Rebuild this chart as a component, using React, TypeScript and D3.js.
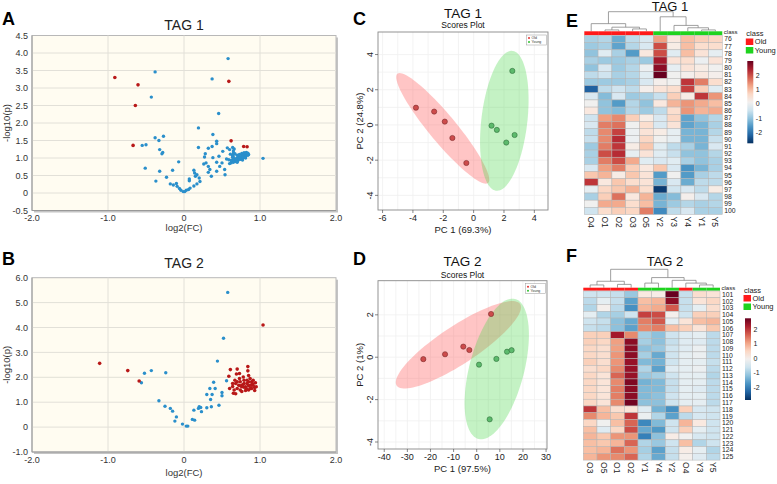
import React from 'react';
import * as d3 from 'd3';

const FONT = "'Liberation Sans', Arial, Helvetica, sans-serif";
type P = [number, number];

// ---------------- Volcano data ----------------
const tag1Significant: P[] = [
  [-0.91, 3.3], [-0.605, 3.09], [-0.64, 2.5], [-0.67, 1.36], [0.59, 3.19], [0.62, 1.49], [0.785, 1.33], [0.83, 1.32],
];
const tag1Other: P[] = [
  [0.58, 3.84], [-0.38, 3.46], [0.37, 3.26], [-0.43, 2.74], [0.456, 2.27], [0.19, 1.86], [0.38, 1.67], [-0.38, 1.58],
  [-0.33, 1.5], [-0.27, 1.62], [-0.55, 1.36], [-0.5, 1.38], [-0.32, 1.24], [-0.28, 1.16], [-0.29, 1.12], [-0.51, 0.71],
  [-0.32, 0.62], [-0.07, 0.89], [-0.15, 0.65], [-0.23, 0.45], [-0.37, 0.34], [-0.18, 0.26], [-0.14, 0.23], [-0.1, 0.27],
  [-0.09, 0.19], [-0.06, 0.13], [-0.04, 0.08], [-0.01, 0.04], [0.01, 0.04], [0.03, 0.08], [0.06, 0.1], [0.08, 0.14],
  [0.07, 0.35], [0.07, 0.4], [0.13, 0.65], [0.14, 0.57], [0.17, 0.52], [0.15, 0.48], [0.2, 0.43], [0.21, 0.33],
  [0.17, 0.26], [0.13, 0.2], [0.19, 1.3], [0.28, 1.12], [0.32, 1.28], [0.27, 1.03], [0.29, 0.86], [0.26, 0.83],
  [0.32, 0.76], [0.34, 0.67], [0.32, 0.59], [0.36, 0.48], [0.38, 1.01], [0.37, 1.33], [0.43, 1.48], [0.43, 1.41],
  [0.46, 1.05], [0.43, 0.88], [0.47, 0.76], [0.43, 0.62], [0.5, 0.86], [0.51, 1.19], [0.535, 0.67], [0.54, 0.52],
  [0.57, 1.29], [0.6, 1.24], [0.61, 1.11], [0.59, 0.95], [0.56, 0.97], [0.645, 1.05], [1.04, 0.99],
  [0.6, 0.84], [0.62, 0.86], [0.63, 0.9], [0.65, 0.88], [0.66, 0.92], [0.68, 0.9], [0.69, 0.95], [0.71, 0.93],
  [0.72, 0.98], [0.74, 0.96], [0.75, 1.0], [0.77, 0.99], [0.78, 1.03], [0.8, 1.02], [0.81, 1.06], [0.82, 1.09],
  [0.83, 1.12], [0.84, 1.08], [0.8, 1.1], [0.78, 1.08], [0.76, 1.05], [0.74, 1.03], [0.72, 1.05], [0.7, 1.0],
  [0.68, 0.97], [0.66, 0.98], [0.64, 0.95], [0.64, 1.02], [0.64, 1.08], [0.65, 1.14], [0.65, 1.2], [0.66, 1.26],
  [0.64, 1.3], [0.67, 1.12], [0.7, 1.08], [0.73, 1.1], [0.76, 1.13], [0.79, 1.15], [0.82, 1.16], [0.84, 1.14],
  [0.62, 0.93], [0.7, 0.88], [0.77, 0.94], [0.81, 1.0], [0.85, 1.1],
];
const tag2Significant: P[] = [
  [-1.11, 2.56], [-0.74, 2.27], [-0.59, 1.85], [1.04, 4.1],
  [0.61, 2.31], [0.7, 2.33], [0.59, 2.04], [0.69, 2.13], [0.73, 2.15], [0.84, 2.43], [0.84, 2.26], [0.85, 2.07],
  [0.64, 1.63], [0.66, 1.49], [0.65, 1.36], [0.68, 1.34], [0.6, 1.55], [0.7, 1.55], [0.74, 1.49], [0.76, 1.62],
  [0.72, 1.68], [0.79, 1.75], [0.81, 1.62], [0.83, 1.75], [0.85, 1.82], [0.87, 1.68], [0.89, 1.82], [0.91, 1.68],
  [0.93, 1.59], [0.94, 1.78], [0.89, 1.55], [0.85, 1.49], [0.81, 1.47], [0.76, 1.43], [0.93, 1.47], [0.87, 1.95],
  [0.83, 1.88], [0.79, 1.88], [0.74, 1.82], [0.73, 1.95], [0.85, 1.66], [0.79, 1.6], [0.74, 1.66], [0.68, 1.75],
  [0.7, 1.82], [0.89, 1.68], [0.91, 1.88], [0.67, 1.88], [0.64, 1.75], [0.78, 2.01], [0.87, 1.55], [0.95, 1.62],
  [0.82, 1.55], [0.9, 1.75], [0.77, 1.7],
];
const tag2Other: P[] = [
  [0.575, 5.41], [0.52, 3.57], [0.44, 2.65], [-0.56, 1.78], [-0.52, 2.16], [-0.43, 2.27], [-0.24, 2.18],
  [-0.33, 1.06], [-0.25, 0.84], [-0.18, 0.75], [-0.15, 0.64], [-0.1, 0.41], [-0.12, 0.24], [-0.02, 0.12],
  [0.03, 0.04], [0.05, 0.04], [0.11, 0.31], [0.14, 0.28], [0.13, 0.68], [0.19, 0.75], [0.2, 0.82], [0.22, 0.79],
  [0.23, 0.62], [0.3, 0.78], [0.36, 0.82], [0.3, 1.31], [0.35, 1.11], [0.34, 1.55], [0.39, 1.8], [0.41, 1.55],
  [0.37, 1.31], [0.46, 0.88], [0.5, 1.39], [0.5, 1.26], [0.56, 1.86],
];

const volcanoXTicks = [-2, -1, 0, 1, 2];
const volcanoXLabels = ['-2.0', '-1.0', '0', '1.0', '2.0'];
const tag1VolcanoYTicks = [-0.5, 0, 0.5, 1, 1.5, 2, 2.5, 3, 3.5, 4, 4.5];
const tag1VolcanoYLabels = ['-0.5', '0', '0.5', '1.0', '1.5', '2.0', '2.5', '3.0', '3.5', '4.0', '4.5'];
const tag2VolcanoYTicks = [-1, 0, 1, 2, 3, 4, 5, 6];
const tag2VolcanoYLabels = ['-1.0', '0', '1.0', '2.0', '3.0', '4.0', '5.0', '6.0'];

// ---------------- PCA scores ----------------
const tag1OldScores: P[] = [[-3.8, 0.98], [-2.6, 0.76], [-1.9, 0.19], [-1.4, -0.74], [-0.48, -2.16]];
const tag1YoungScores: P[] = [[2.55, 3.07], [1.18, -0.04], [1.53, -0.28], [2.7, -0.57], [2.15, -1.0]];
const tag2OldScores: P[] = [[-23.1, -0.09], [-13.7, 0.14], [-5.8, 0.5], [-3.2, 0.34], [6.2, 2.04]];
const tag2YoungScores: P[] = [[1.0, -0.35], [8.5, -0.08], [13.1, 0.26], [15.1, 0.33], [5.6, -2.93]];
const tag1PcaXTicks = [-6, -4, -2, 0, 2, 4];
const tag1PcaYTicks = [-4, -2, 0, 2, 4];
const tag2PcaXTicks = [-40, -30, -20, -10, 0, 10, 20, 30];
const tag2PcaYTicks = [-4, -2, 0, 2];

// ---------------- Heatmaps ----------------
const tag1Columns = ['O4', 'O1', 'O2', 'O3', 'O5', 'Y2', 'Y3', 'Y4', 'Y1', 'Y5'];
const tag1Rows = ['76', '77', '78', '79', '80', '81', '82', '83', '84', '85', '86', '87', '88', '89', '90', '91', '92', '93', '94', '95', '96', '97', '98', '99', '100'];
const tag1Heat: number[][] = [
  [-0.8, -0.7, -1.3, -0.6, -0.3, 1.3, 0.4, 1.0, 0.8, 0.7],
  [-0.9, -0.8, -1.4, -0.7, -0.3, 2.0, 0.3, 1.0, 0.6, 0.6],
  [-1.0, -0.2, -0.8, -1.5, 0.4, 2.0, -0.2, 1.0, 0.5, -0.1],
  [-0.8, -0.9, -0.9, -0.8, -0.9, 2.5, 0.5, 0.6, 0.0, 0.5],
  [-1.0, -0.3, -0.9, -0.7, 0.0, 2.7, -0.1, 0.5, 0.3, 0.1],
  [-0.6, -0.4, -0.8, -0.7, -0.2, 3.0, 0.1, 0.2, 0.4, 0.2],
  [-0.9, -0.9, -0.9, -0.8, -0.3, 0.2, 0.1, 2.2, 1.6, 0.6],
  [-2.2, -0.6, -0.4, -0.6, 0.2, 0.5, 0.6, 2.1, 0.8, -0.2],
  [-0.3, -1.1, -0.3, -0.9, -0.8, -0.5, 0.8, 0.3, 2.2, 1.4],
  [0.1, -1.0, -1.5, -0.7, -1.0, 0.4, 1.1, 1.4, 1.2, 1.0],
  [0.4, -1.0, -1.1, -0.7, -0.9, -0.6, 0.6, 1.4, 1.1, 1.2],
  [-0.4, 1.3, 1.5, 0.8, 0.3, -0.3, 0.7, -1.4, -1.0, -0.7],
  [-0.3, 1.6, 1.7, 0.1, 0.6, -0.3, 0.5, -1.4, -1.2, -0.8],
  [-0.6, 1.5, 2.1, 0.0, 0.5, 0.3, -0.1, -1.2, -1.2, -0.7],
  [-0.5, 1.5, 2.3, 0.0, 0.7, 0.1, -0.1, -1.2, -1.2, -0.5],
  [-0.9, 1.6, 2.2, 0.3, 0.9, -0.2, -0.6, -0.8, -1.2, -0.3],
  [-0.8, 2.0, 2.3, -0.1, 0.5, -0.2, -0.5, -1.0, -1.0, -0.7],
  [-0.8, 1.6, 2.0, 1.2, -0.2, -0.3, -0.2, -0.8, -1.0, -0.8],
  [-0.3, 1.3, 1.6, 0.8, 0.4, 0.9, -0.3, -1.6, -1.2, -0.8],
  [0.9, 1.1, 0.3, 0.9, 0.5, -1.5, 0.1, -1.5, -0.8, -0.6],
  [2.2, 0.4, 0.9, 0.6, 0.5, -1.2, -0.3, -1.3, -0.6, -0.6],
  [-0.1, 0.7, 0.9, 1.1, 0.6, -2.6, -0.4, -0.3, -0.6, 0.3],
  [-0.8, 0.8, 1.7, 0.4, 1.1, -1.3, -1.1, 0.2, -0.3, -0.7],
  [0.1, 1.2, 1.2, 0.6, 1.0, -1.2, -0.9, -0.7, -0.8, -0.7],
  [-0.4, 0.6, 0.8, 0.7, 1.6, -1.7, -0.6, -0.3, -0.8, -0.8],
];
const tag2Columns = ['O3', 'O5', 'O1', 'O2', 'Y1', 'Y4', 'Y2', 'O4', 'Y3', 'Y5'];
const tag2Rows = ['101', '102', '103', '104', '105', '106', '107', '108', '109', '110', '111', '112', '113', '114', '115', '116', '117', '118', '119', '120', '121', '122', '123', '124', '125'];
const tag2Heat: number[][] = [
  [-0.6, -0.6, -0.7, -1.1, 0.2, 0.1, 3.0, -0.7, 0.4, 0.3],
  [-0.8, -0.3, -0.7, -1.6, 0.8, 0.9, 2.5, -0.7, 0.3, 0.5],
  [-0.9, 0.0, -0.8, -1.8, 0.9, 1.0, 1.7, -0.7, -0.3, 0.4],
  [-0.3, -0.9, -1.0, -0.6, 1.9, 1.8, 0.0, -0.6, 0.6, 0.6],
  [-0.6, -0.7, -1.2, -1.5, 1.4, 1.7, -0.3, 0.3, 0.8, 0.9],
  [-0.7, -0.8, -1.2, -1.6, 1.3, 1.4, 0.8, 0.6, 0.3, 0.7],
  [0.6, 0.6, 2.3, 1.3, -1.0, -1.2, -0.6, -0.4, -0.3, -0.8],
  [0.6, 0.5, 1.1, 2.5, -1.0, -1.2, -0.7, -0.4, -0.4, -0.8],
  [0.5, 0.4, 1.1, 2.5, -1.2, -1.1, -0.6, -0.4, -0.2, -0.8],
  [0.5, 0.4, 1.2, 2.5, -1.0, -1.5, -0.6, -0.3, -0.2, -0.8],
  [0.6, 0.4, 1.2, 2.4, -1.3, -1.4, -0.6, -0.3, -0.3, -0.7],
  [0.4, 0.5, 1.3, 2.4, -0.9, -1.6, -0.4, -0.3, -0.2, -0.8],
  [0.5, 0.3, 1.6, 2.4, -1.1, -1.0, -0.6, -0.3, -0.3, -0.9],
  [0.5, 0.3, 1.3, 2.6, -1.4, -1.3, -0.7, -0.3, -0.3, -0.8],
  [0.5, 0.3, 1.4, 2.5, -1.3, -1.3, -0.7, -0.3, -0.4, -0.8],
  [0.5, 0.3, 1.4, 2.5, -1.3, -1.2, -0.6, -0.3, -0.3, -0.8],
  [0.5, 0.3, 1.3, 2.7, -1.2, -1.2, -0.6, -0.3, -0.3, -0.8],
  [2.0, 0.8, 0.4, 0.3, -0.4, -1.4, -1.8, 0.6, -0.5, -0.6],
  [1.3, 0.9, 0.7, 2.0, -0.2, -0.9, -1.6, -0.8, -0.5, -0.6],
  [0.5, -0.1, 0.8, 1.6, -1.9, -1.3, -0.6, 0.9, 0.2, -0.6],
  [0.8, -0.4, 0.5, 1.8, -1.5, -1.7, -0.6, 0.6, -0.3, -0.6],
  [0.9, 0.7, 1.2, 1.2, -2.0, -1.2, 0.1, -0.1, -0.5, -0.6],
  [0.8, 0.7, 0.9, 1.6, -0.9, -1.1, -0.6, 0.8, -0.9, -0.6],
  [0.8, 0.9, 1.5, 1.2, -1.0, -1.6, -0.7, 0.1, -0.3, -0.9],
  [0.9, 1.2, 1.3, 1.6, -0.9, -1.5, -0.7, 0.0, -0.4, -0.8],
];
type Tree = string | [Tree, Tree, number];
const tag1Tree: Tree = [['O4', [['O1', 'O2', 0.07], ['O3', 'O5', 0.12], 0.21], 0.39], ['Y2', ['Y3', ['Y4', ['Y1', 'Y5', 0.07], 0.18], 0.3], 0.74], 1];
const tag2Tree: Tree = [[['O3', 'O5', 0.15], ['O1', 'O2', 0.18], 0.35], [['Y1', 'Y4', 0.25], ['Y2', ['O4', ['Y3', 'Y5', 0.15], 0.25], 0.4], 0.55], 1];
const colorKeyTicks = [2, 1, 0, -1, -2];
const classNames = ['Old', 'Young'];
const classColors = ['#ff1a1a', '#1ed31e'];

// ---------------- Components ----------------
function Volcano(props: any) {
  const { left, right, top, bottom, yTicks, yLabels, sig, other, title, letter, titleY, letterY, tickOff, labelOff } = props;
  const x = d3.scaleLinear().domain([-2, 2]).range([left, right]);
  const y = d3.scaleLinear().domain([yTicks[0], yTicks[yTicks.length - 1]]).range([bottom, top]);
  const cx = (left + right) / 2;
  return (
    <g fontFamily={FONT}>
      <text x={2} y={letterY} fontSize={18} fontWeight="bold">{letter}</text>
      <text x={cx} y={titleY} fontSize={14} textAnchor="middle" fill="#222">{title}</text>
      <rect x={left + 2} y={top + 2} width={right - left} height={bottom - top} fill="#c4c4c4" />
      <rect x={left} y={top} width={right - left} height={bottom - top} fill="#fffcf1" stroke="#b8b8b8" strokeWidth={1} />
      {yTicks.map((t: number, i: number) => (
        <g key={'y' + i}>
          {i > 0 && i < yTicks.length - 1 && <line x1={left} x2={right} y1={y(t)} y2={y(t)} stroke="#e2e0d8" strokeWidth={1} />}
          <text x={left - 4} y={y(t)} dy="0.35em" fontSize={9} textAnchor="end" fill="#333">{yLabels[i]}</text>
        </g>
      ))}
      {volcanoXTicks.map((t, i) => (
        <g key={'x' + i}>
          {i > 0 && i < volcanoXTicks.length - 1 && <line x1={x(t)} x2={x(t)} y1={top} y2={bottom} stroke="#e2e0d8" strokeWidth={1} />}
          <text x={x(t)} y={bottom + tickOff} fontSize={9} textAnchor="middle" fill="#333">{volcanoXLabels[i]}</text>
        </g>
      ))}
      <line x1={left} x2={left} y1={top} y2={bottom} stroke="#999" />
      <line x1={left} x2={right} y1={bottom} y2={bottom} stroke="#999" />
      <text x={cx} y={bottom + labelOff} fontSize={9.5} textAnchor="middle" fill="#333">log2(FC)</text>
      <text transform={`translate(10,${(top + bottom) / 2}) rotate(-90)`} fontSize={9.5} textAnchor="middle" fill="#333">-log10(p)</text>
      {other.map((p: P, i: number) => <circle key={'o' + i} cx={x(p[0])} cy={y(p[1])} r={1.7} fill="#2a8fcb" />)}
      {sig.map((p: P, i: number) => <circle key={'s' + i} cx={x(p[0])} cy={y(p[1])} r={1.8} fill="#b81818" />)}
    </g>
  );
}

function ellipseData(pts: P[]): P[] {
  const n = pts.length;
  const mx = d3.mean(pts, (p) => p[0]) as number;
  const my = d3.mean(pts, (p) => p[1]) as number;
  let sxx = 0, syy = 0, sxy = 0;
  pts.forEach((p) => { sxx += (p[0] - mx) ** 2; syy += (p[1] - my) ** 2; sxy += (p[0] - mx) * (p[1] - my); });
  sxx /= n - 1; syy /= n - 1; sxy /= n - 1;
  const tr = sxx + syy, det = sxx * syy - sxy * sxy;
  const disc = Math.sqrt(Math.max(0, tr * tr / 4 - det));
  const l1 = tr / 2 + disc, l2 = Math.max(0, tr / 2 - disc);
  let vx = l1 - syy, vy = sxy;
  const nn = Math.hypot(vx, vy) || 1; vx /= nn; vy /= nn;
  const k = Math.sqrt(5.991);
  const a = k * Math.sqrt(l1), b = k * Math.sqrt(l2);
  return d3.range(0, 100).map((i) => {
    const t = (i / 100) * Math.PI * 2;
    return [mx + a * Math.cos(t) * vx - b * Math.sin(t) * vy, my + a * Math.cos(t) * vy + b * Math.sin(t) * vx] as P;
  });
}

function Pca(props: any) {
  const { left, right, top, bottom, xDomain, yDomain, xTicks, yTicks, old, young, title, letter, titleY, subY, letterY, xLabel, yLabel } = props;
  const x = d3.scaleLinear().domain(xDomain).range([left, right]);
  const y = d3.scaleLinear().domain(yDomain).range([bottom, top]);
  const line = d3.line<P>().x((d) => x(d[0])).y((d) => y(d[1])).curve(d3.curveLinearClosed);
  const cx = (left + right) / 2;
  const minorX = xTicks.slice(0, -1).map((t: number, i: number) => (t + xTicks[i + 1]) / 2);
  const minorY = yTicks.slice(0, -1).map((t: number, i: number) => (t + yTicks[i + 1]) / 2);
  const lx = right - 21.5, ly = top + 3;
  return (
    <g fontFamily={FONT}>
      <text x={353} y={letterY} fontSize={18} fontWeight="bold">{letter}</text>
      <text x={cx} y={titleY} fontSize={13.5} textAnchor="middle" fill="#111">{title}</text>
      <text x={cx} y={subY} fontSize={8.5} textAnchor="middle" fill="#111">Scores Plot</text>
      <rect x={left} y={top} width={right - left} height={bottom - top} fill="#fff" />
      {[...xTicks, ...minorX].map((t: number, i: number) => <line key={'gx' + i} x1={x(t)} x2={x(t)} y1={top} y2={bottom} stroke="#f0f0f0" strokeWidth={0.8} />)}
      {[...yTicks, ...minorY].map((t: number, i: number) => <line key={'gy' + i} x1={left} x2={right} y1={y(t)} y2={y(t)} stroke="#f0f0f0" strokeWidth={0.8} />)}
      <path d={line(ellipseData(old)) || ''} fill="#ff5a5a" fillOpacity={0.35} />
      <path d={line(ellipseData(young)) || ''} fill="#4cd94c" fillOpacity={0.33} />
      {old.map((p: P, i: number) => <circle key={'r' + i} cx={x(p[0])} cy={y(p[1])} r={2.6} fill="#cd4b4b" stroke="#7a2a2a" strokeWidth={0.6} />)}
      {young.map((p: P, i: number) => <circle key={'g' + i} cx={x(p[0])} cy={y(p[1])} r={2.6} fill="#5cba6c" stroke="#2f6e3a" strokeWidth={0.6} />)}
      <rect x={left} y={top} width={right - left} height={bottom - top} fill="none" stroke="#888" strokeWidth={0.9} />
      {xTicks.map((t: number, i: number) => (
        <g key={'xt' + i}>
          <line x1={x(t)} x2={x(t)} y1={bottom} y2={bottom + 3} stroke="#555" strokeWidth={0.7} />
          <text x={x(t)} y={bottom + 11} fontSize={9} textAnchor="middle" fill="#222">{t}</text>
        </g>
      ))}
      {yTicks.map((t: number, i: number) => (
        <g key={'yt' + i}>
          <line x1={left - 3} x2={left} y1={y(t)} y2={y(t)} stroke="#555" strokeWidth={0.7} />
          <text transform={`translate(${left - 5},${y(t)}) rotate(-90)`} fontSize={9} textAnchor="middle" fill="#222">{t}</text>
        </g>
      ))}
      <text x={cx} y={bottom + 23} fontSize={9.5} textAnchor="middle" fill="#222">{xLabel}</text>
      <text transform={`translate(${left - 15},${(top + bottom) / 2}) rotate(-90)`} fontSize={9.5} textAnchor="middle" fill="#222">{yLabel}</text>
      <rect x={lx} y={ly} width={20} height={10} fill="#fff" stroke="#999" strokeWidth={0.5} />
      <circle cx={lx + 2.5} cy={ly + 3} r={1} fill="#e03030" />
      <circle cx={lx + 2.5} cy={ly + 7} r={1} fill="#30c030" />
      <text x={lx + 5} y={ly + 4.2} fontSize={3.5} fill="#333">Old</text>
      <text x={lx + 5} y={ly + 8.2} fontSize={3.5} fill="#333">Young</text>
    </g>
  );
}

function Heatmap(props: any) {
  const { left, right, top, bottom, barTop, treeTop, columns, rows, values, tree, vmax, vmin, keyX, keyTop, keyBottom, legendY, title, titleX, titleY, letter, letterY } = props;
  const colW = (right - left) / columns.length;
  const rowH = (bottom - top) / rows.length;
  const colX = (c: string) => left + (columns.indexOf(c) + 0.5) * colW;
  const color = (v: number) => d3.interpolateRdBu((vmax - v) / (vmax - vmin));
  const hY = d3.scaleLinear().domain([0, 1]).range([barTop, treeTop]);
  const segs: number[][] = [];
  const walk = (node: Tree): { x: number; h: number } => {
    if (typeof node === 'string') return { x: colX(node), h: 0 };
    const l = walk(node[0]), r = walk(node[1]);
    const h = node[2];
    segs.push([l.x, h, r.x, h], [l.x, l.h, l.x, h], [r.x, r.h, r.x, h]);
    return { x: (l.x + r.x) / 2, h };
  };
  walk(tree);
  const keyScale = d3.scaleLinear().domain([vmax, vmin]).range([keyTop, keyBottom]);
  const gid = 'grad' + letter;
  return (
    <g fontFamily={FONT}>
      <defs>
        <linearGradient id={gid} x1="0" y1="0" x2="0" y2="1">
          {d3.range(0, 11).map((i) => <stop key={i} offset={i / 10} stopColor={d3.interpolateRdBu(i / 10)} />)}
        </linearGradient>
      </defs>
      <text x={566} y={letterY} fontSize={18} fontWeight="bold">{letter}</text>
      <text x={titleX} y={titleY} fontSize={13} textAnchor="middle" fill="#111">{title}</text>
      {segs.map((s, i) => <line key={'d' + i} x1={s[0]} x2={s[2]} y1={hY(s[1])} y2={hY(s[3])} stroke="#888" strokeWidth={0.8} />)}
      {columns.map((c: string, i: number) => (
        <rect key={'c' + i} x={left + i * colW} y={barTop} width={colW} height={top - barTop - 0.3} fill={classColors[c[0] === 'O' ? 0 : 1]} />
      ))}
      <text x={right + 1.5} y={barTop + 2.6} fontSize={6} fill="#222">class</text>
      {values.map((row: number[], r: number) => row.map((v: number, c: number) => (
        <rect key={r + '-' + c} x={left + c * colW} y={top + r * rowH} width={colW} height={rowH} fill={color(v)} stroke="#b4b4b4" strokeWidth={0.5} />
      )))}
      {rows.map((lab: string, r: number) => (
        <text key={'rl' + r} x={right + 2} y={top + (r + 0.5) * rowH} dy="0.35em" fontSize={6.8} fill="#222">{lab}</text>
      ))}
      {columns.map((lab: string, i: number) => (
        <text key={'cl' + i} transform={`translate(${left + (i + 0.5) * colW},${bottom + 2}) rotate(90)`} dy="0.35em" fontSize={8.5} fill="#222">{lab}</text>
      ))}
      <text x={keyX - 1} y={legendY} fontSize={7.5} fill="#222">class</text>
      {classNames.map((n, i) => (
        <g key={n}>
          <rect x={keyX - 1.5} y={legendY + 2.5 + i * 8.5} width={7.5} height={6.5} fill={classColors[i]} />
          <text x={keyX + 7.5} y={legendY + 8.2 + i * 8.5} fontSize={7.5} fill="#222">{n}</text>
        </g>
      ))}
      <rect x={keyX} y={keyTop} width={6} height={keyBottom - keyTop} fill={`url(#${gid})`} />
      {colorKeyTicks.map((t) => (
        <text key={'k' + t} x={keyX + 8.5} y={keyScale(t)} dy="0.35em" fontSize={7} fill="#222">{t}</text>
      ))}
    </g>
  );
}

export default function App() {
  return (
    <svg width={777} height={484} viewBox="0 0 777 484" style={{ position: 'absolute', left: 0, top: 0, background: '#fff' }}>
      <rect width={777} height={484} fill="#fff" />
      <Volcano left={32} right={336} top={35.5} bottom={210.5} yTicks={tag1VolcanoYTicks} yLabels={tag1VolcanoYLabels}
        sig={tag1Significant} other={tag1Other} title="TAG 1" letter="A" titleY={30} letterY={25} tickOff={10.5} labelOff={20.5} />
      <Volcano left={32} right={336} top={277.7} bottom={452} yTicks={tag2VolcanoYTicks} yLabels={tag2VolcanoYLabels}
        sig={tag2Significant} other={tag2Other} title="TAG 2" letter="B" titleY={268} letterY={265} tickOff={10.5} labelOff={24} />
      <Pca left={378} right={548} top={32} bottom={210} xDomain={[-6.3, 4.9]} yDomain={[-4.83, 5.28]}
        xTicks={tag1PcaXTicks} yTicks={tag1PcaYTicks} old={tag1OldScores} young={tag1YoungScores}
        title="TAG 1" titleY={18} subY={28} letter="C" letterY={25} xLabel="PC 1 (69.3%)" yLabel="PC 2 (24.8%)" />
      <Pca left={378} right={547} top={280.7} bottom={449} xDomain={[-42.7, 30.4]} yDomain={[-4.33, 3.61]}
        xTicks={tag2PcaXTicks} yTicks={tag2PcaYTicks} old={tag2OldScores} young={tag2YoungScores}
        title="TAG 2" titleY={266} subY={277.5} letter="D" letterY={265} xLabel="PC 1 (97.5%)" yLabel="PC 2 (1%)" />
      <Heatmap left={584.3} right={722.3} top={35.5} bottom={214.5} barTop={31.3} treeTop={11.7}
        columns={tag1Columns} rows={tag1Rows} values={tag1Heat} tree={tag1Tree} vmax={2.99} vmin={-2.73}
        keyX={747.3} keyTop={61} keyBottom={143.3} legendY={36} title="TAG 1" titleX={670} titleY={11} letter="E" letterY={27} />
      <Heatmap left={583.3} right={720} top={291} bottom={460.1} barTop={287.7} treeTop={269.3}
        columns={tag2Columns} rows={tag2Rows} values={tag2Heat} tree={tag2Tree} vmax={2.78} vmin={-2.89}
        keyX={745} keyTop={318.3} keyBottom={400} legendY={292.5} title="TAG 2" titleX={665} titleY={266} letter="F" letterY={262} />
    </svg>
  );
}
